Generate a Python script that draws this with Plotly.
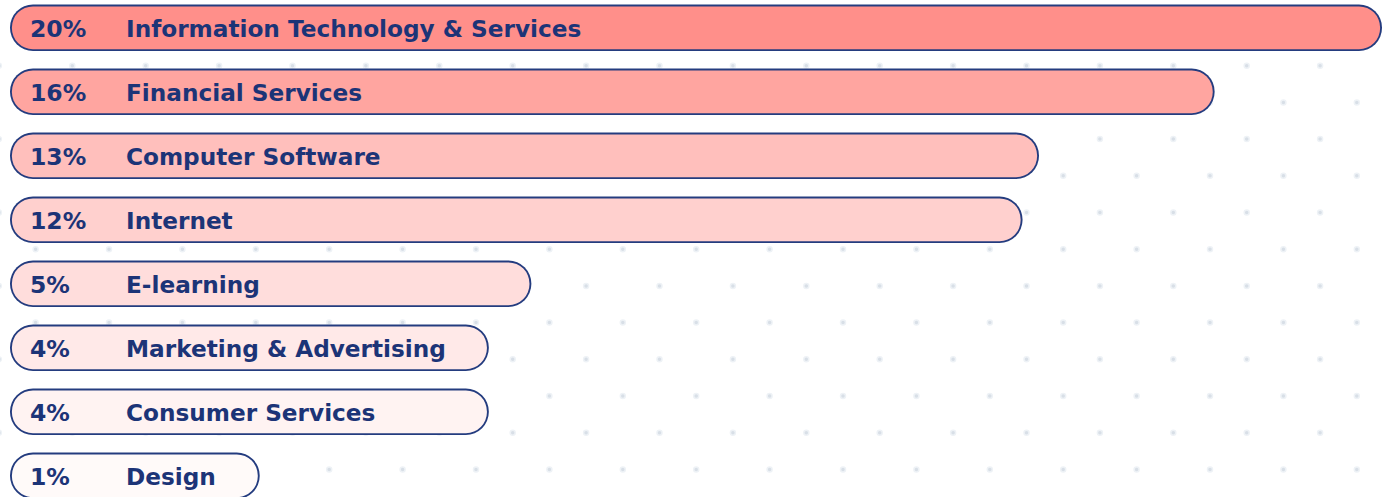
import plotly.graph_objects as go

# ---------------- data ----------------
categories = [
    "Information Technology & Services",
    "Financial Services",
    "Computer Software",
    "Internet",
    "E-learning",
    "Marketing & Advertising",
    "Consumer Services",
    "Design",
]
share_labels = ["20%", "16%", "13%", "12%", "5%", "4%", "4%", "1%"]
# relative bar length (% of the longest bar)
bar_length = [100.0, 87.8, 75.0, 73.8, 38.0, 34.9, 34.9, 18.2]
fill_colors = ["#ff8f8a", "#ffa5a0", "#ffbfbc", "#ffd0ce",
               "#ffdddc", "#ffe9e8", "#fff3f2", "#fffaf9"]

# ---------------- layout constants ----------------
W, H = 1390, 497
LEFT_PX = 10            # left edge of bars
FULL_PX = 1372          # pixel length of a 100 bar
PX_PER_UNIT = FULL_PX / 100.0
ROW0_PX = 27.8          # centre of first row
ROW_PITCH = 64.0        # pixels between rows
BAR_PX = 46.5           # outer bar thickness
LINE_PX = 1.9           # outline width
NAVY = "#243c7f"
TEXT = "#1c3477"
FONT = "DejaVu Sans"

n = len(categories)
ypos = list(range(n))

x_range = [-LEFT_PX / PX_PER_UNIT, (W - LEFT_PX) / PX_PER_UNIT]
y_range = [(H - ROW0_PX) / ROW_PITCH, -ROW0_PX / ROW_PITCH]

lw_u = LINE_PX / PX_PER_UNIT
outer_w = BAR_PX / ROW_PITCH
inner_w = (BAR_PX - 2 * LINE_PX) / ROW_PITCH

fig = go.Figure()

# ---- background dot grid (main axes, pixel units) ----
step = 36.7
dx, dy = [], []
for k in range(-2, 14):
    yy = 65.7 + step * k
    off = step if k % 2 else 0.0
    for m in range(-2, 22):
        xx = 72.3 + off + 2 * step * m
        if -5 <= xx <= W + 5 and -5 <= yy <= H + 5:
            dx.append(xx)
            dy.append(yy)
fig.add_trace(go.Scatter(
    x=dx, y=dy, mode="markers", xaxis="x", yaxis="y",
    marker=dict(size=5, color="#d8dfe7", line=dict(width=1.5, color="#eef2f6")),
    hoverinfo="skip", showlegend=False))

# outline pills (navy)
fig.add_trace(go.Bar(
    orientation="h", y=ypos, base=[0.0] * n, x=bar_length, width=outer_w,
    marker=dict(color=NAVY, cornerradius="50%", line=dict(width=0)),
    xaxis="x2", yaxis="y2", hoverinfo="skip", showlegend=False))
# fill pills on top
fig.add_trace(go.Bar(
    orientation="h", y=ypos, base=[lw_u] * n,
    x=[v - 2 * lw_u for v in bar_length], width=inner_w,
    marker=dict(color=fill_colors, cornerradius="50%", line=dict(width=0)),
    xaxis="x2", yaxis="y2", hoverinfo="skip", showlegend=False))

annotations = []
for i in range(n):
    annotations.append(dict(
        x=28 / W, xref="paper", y=ypos[i] + 0.015, yref="y2",
        text="<b>" + share_labels[i] + "</b>", showarrow=False,
        xanchor="left", yanchor="middle",
        font=dict(family=FONT, size=23.5, color=TEXT)))
    annotations.append(dict(
        x=124 / W, xref="paper", y=ypos[i] + 0.015, yref="y2",
        text="<b>" + categories[i] + "</b>", showarrow=False,
        xanchor="left", yanchor="middle",
        font=dict(family=FONT, size=23.2, color=TEXT)))

axis_off = dict(showgrid=False, zeroline=False, showticklabels=False,
                showline=False, ticks="", fixedrange=True)

fig.update_layout(
    width=W, height=H,
    margin=dict(l=0, r=0, t=0, b=0),
    paper_bgcolor="white", plot_bgcolor="white",
    barmode="overlay",
    hovermode=False,
    xaxis=dict(range=[0, W], **axis_off),
    yaxis=dict(range=[H, 0], **axis_off),
    xaxis2=dict(range=x_range, overlaying="x", **axis_off),
    yaxis2=dict(range=y_range, overlaying="y", **axis_off),
    annotations=annotations,
    showlegend=False,
)

fig.write_html("out.html", config={"displayModeBar": False},
               post_script="document.body.style.margin='0';")
